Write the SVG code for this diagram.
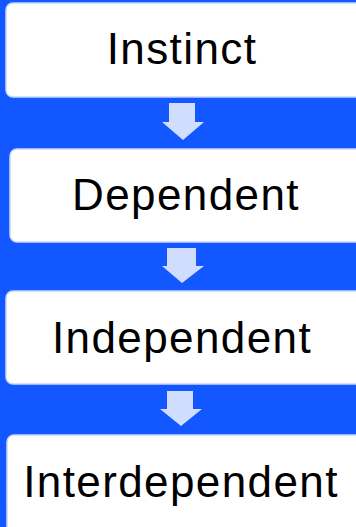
<svg xmlns="http://www.w3.org/2000/svg" width="356" height="527" viewBox="0 0 356 527">
<style>
.box{fill:#ffffff;stroke:#c9d7ff;stroke-width:1.5}
.lbl{font-family:"Liberation Sans",Arial,sans-serif;font-size:44px;fill:#000;text-anchor:middle;letter-spacing:1.4px}
.arr{fill:#d0ddff}
</style>
<rect x="0" y="0" width="356" height="527" fill="#1257ff"/>
<g id="connectors">
<polygon class="arr" points="169,103 195,103 195,122 204,122 183,140 162,122 169,122"/>
<polygon class="arr" points="167,248 196,248 196,266 204,266 182,283 162,266 167,266"/>
<polygon class="arr" points="167,391 193,391 193,409 202,409 181,426 160,409 167,409"/>
</g>
<g id="node-instinct">
<rect class="box" x="6" y="3" width="356" height="94" rx="7"/>
<text class="lbl" x="182" y="64">Instinct</text>
</g>
<g id="node-dependent">
<rect class="box" x="10" y="149" width="356" height="93" rx="7"/>
<text class="lbl" x="186" y="210">Dependent</text>
</g>
<g id="node-independent">
<rect class="box" x="6" y="291" width="356" height="93" rx="7"/>
<text class="lbl" x="182" y="353">Independent</text>
</g>
<g id="node-interdependent">
<rect class="box" x="7" y="435" width="356" height="100" rx="7"/>
<text class="lbl" x="181" y="497">Interdependent</text>
</g>
</svg>
